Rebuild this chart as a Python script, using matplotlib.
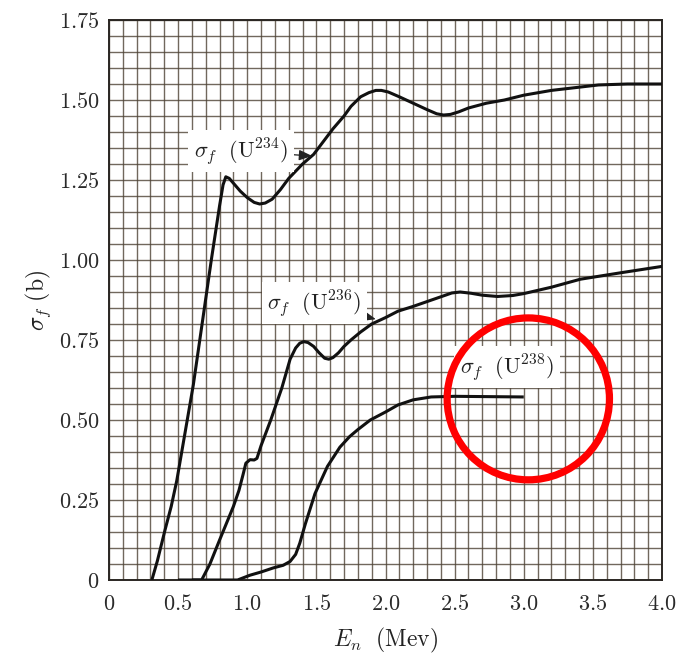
import matplotlib
matplotlib.use("Agg")
import matplotlib.pyplot as plt
from matplotlib.patches import Ellipse
from matplotlib.ticker import FixedLocator, FixedFormatter, MultipleLocator

plt.rcParams["mathtext.fontset"] = "cm"
plt.rcParams["font.family"] = ["DejaVu Serif"]

# Fission cross sections (barns) vs neutron energy (MeV)
u234_e = [0.31, 0.35, 0.405, 0.45, 0.49, 0.55, 0.61, 0.67, 0.74, 0.80, 0.825,
          0.845, 0.87, 0.91, 0.95, 1.00, 1.05, 1.09, 1.13, 1.18, 1.24, 1.30,
          1.40, 1.48, 1.55, 1.62, 1.70, 1.75, 1.82, 1.88, 1.93, 1.97, 2.02,
          2.10, 2.20, 2.30, 2.37, 2.42, 2.47, 2.53, 2.60, 2.73, 2.86, 3.00,
          3.20, 3.40, 3.54, 3.75, 4.00]
u234_s = [0.0, 0.06, 0.156, 0.23, 0.31, 0.46, 0.61, 0.79, 1.00, 1.17, 1.235,
          1.26, 1.255, 1.235, 1.215, 1.195, 1.18, 1.175, 1.178, 1.19, 1.22, 1.255,
          1.30, 1.33, 1.37, 1.41, 1.45, 1.48, 1.51, 1.523, 1.53, 1.53, 1.525,
          1.51, 1.49, 1.47, 1.457, 1.453, 1.455, 1.463, 1.475, 1.49, 1.50, 1.515,
          1.53, 1.54, 1.547, 1.55, 1.55]

u236_e = [0.50, 0.67, 0.73, 0.80, 0.90, 0.94, 0.97, 0.99, 1.02, 1.05, 1.07,
          1.10, 1.17, 1.25, 1.31, 1.35, 1.38, 1.41, 1.44, 1.48, 1.52, 1.56,
          1.59, 1.62, 1.66, 1.70, 1.75, 1.82, 1.90, 2.00, 2.09, 2.20, 2.30,
          2.40, 2.48, 2.54, 2.62, 2.70, 2.81, 2.92, 3.00, 3.20, 3.41, 3.70, 4.00]
u236_s = [0.0, 0.0, 0.05, 0.125, 0.23, 0.28, 0.33, 0.365, 0.376, 0.375, 0.38,
          0.42, 0.50, 0.60, 0.69, 0.725, 0.740, 0.745, 0.742, 0.73, 0.71, 0.693,
          0.69, 0.695, 0.71, 0.73, 0.75, 0.775, 0.80, 0.82, 0.84, 0.855, 0.87,
          0.885, 0.897, 0.90, 0.896, 0.89, 0.886, 0.889, 0.895, 0.915, 0.94, 0.96, 0.98]

u238_e = [0.60, 0.93, 1.02, 1.10, 1.19, 1.26, 1.31, 1.35, 1.38, 1.42, 1.49,
          1.58, 1.67, 1.74, 1.80, 1.89, 2.00, 2.09, 2.20, 2.33, 2.50, 2.75, 3.00]
u238_s = [0.0, 0.0, 0.015, 0.025, 0.038, 0.046, 0.058, 0.08, 0.115, 0.175, 0.27,
          0.355, 0.415, 0.448, 0.47, 0.50, 0.525, 0.547, 0.563, 0.572, 0.574, 0.573, 0.572]

x_ticks = [0, 0.5, 1.0, 1.5, 2.0, 2.5, 3.0, 3.5, 4.0]
x_tick_labels = ["0", "0.5", "1.0", "1.5", "2.0", "2.5", "3.0", "3.5", "4.0"]
y_ticks = [0, 0.25, 0.50, 0.75, 1.00, 1.25, 1.50, 1.75]
y_tick_labels = ["0", "0.25", "0.50", "0.75", "1.00", "1.25", "1.50", "1.75"]

W, H = 679, 657
fig = plt.figure(figsize=(W / 100, H / 100), dpi=100)
ax = fig.add_axes([109 / W, 1 - 580 / H, 553 / W, 560 / H])

ax.set_xlim(0, 4.0)
ax.set_ylim(0, 1.75)

# graph-paper grid
grid_color = "#4d4235"
ax.xaxis.set_minor_locator(MultipleLocator(0.1))
ax.yaxis.set_minor_locator(MultipleLocator(0.05))
ax.grid(True, which="both", color=grid_color, lw=1.0, alpha=0.8, zorder=0)
ax.set_axisbelow(True)

ax.xaxis.set_major_locator(FixedLocator(x_ticks))
ax.xaxis.set_major_formatter(FixedFormatter([f"${t}$" for t in x_tick_labels]))
ax.yaxis.set_major_locator(FixedLocator(y_ticks))
ax.yaxis.set_major_formatter(FixedFormatter([f"${t}$" for t in y_tick_labels]))
ax.tick_params(which="both", length=0, labelsize=16, colors="#2a2a2a")
ax.tick_params(axis="x", pad=9)
ax.tick_params(axis="y", pad=7)

for sp in ax.spines.values():
    sp.set_color("#2a2622")
    sp.set_linewidth(1.4)

curve_kw = dict(color="#111111", lw=2.2, solid_joinstyle="round",
                solid_capstyle="butt", zorder=3)
ax.plot(u234_e, u234_s, **curve_kw)
ax.plot(u236_e, u236_s, **curve_kw)
ax.plot(u238_e, u238_s, **curve_kw)

box = dict(boxstyle="square,pad=0.25", fc="white", ec="none")
arrow = dict(arrowstyle="-|>,head_length=0.5,head_width=0.2", color="#222222",
             lw=0.9, shrinkA=0, shrinkB=0)
ax.annotate(r"$\sigma_f\ \ (\mathrm{U}^{234})$", xy=(1.47, 1.325), xytext=(0.955, 1.34),
            ha="center", va="center", fontsize=16, color="#222222",
            bbox=box, arrowprops=arrow, zorder=4)
ax.annotate(r"$\sigma_f\ \ (\mathrm{U}^{236})$", xy=(1.93, 0.815), xytext=(1.485, 0.865),
            ha="center", va="center", fontsize=16, color="#222222",
            bbox=box, arrowprops=arrow, zorder=4)
ax.text(2.88, 0.665, r"$\sigma_f\ \ (\mathrm{U}^{238})$", ha="center", va="center",
        fontsize=16, color="#222222", bbox=box, zorder=4)

ax.set_xlabel(r"$E_n\ \ (\mathrm{Mev})$", fontsize=17, color="#222222", labelpad=8)
ax.set_ylabel(r"$\sigma_f\ (\mathrm{b})$", fontsize=17, color="#222222", labelpad=4)

# red ring drawn over the plot
ax.add_patch(Ellipse((3.033, 0.566), 1.174, 0.506, fill=False, ec="#ff0000",
                     lw=5.2, clip_on=False, zorder=6))

fig.savefig("out.png", dpi=100, facecolor="white")
